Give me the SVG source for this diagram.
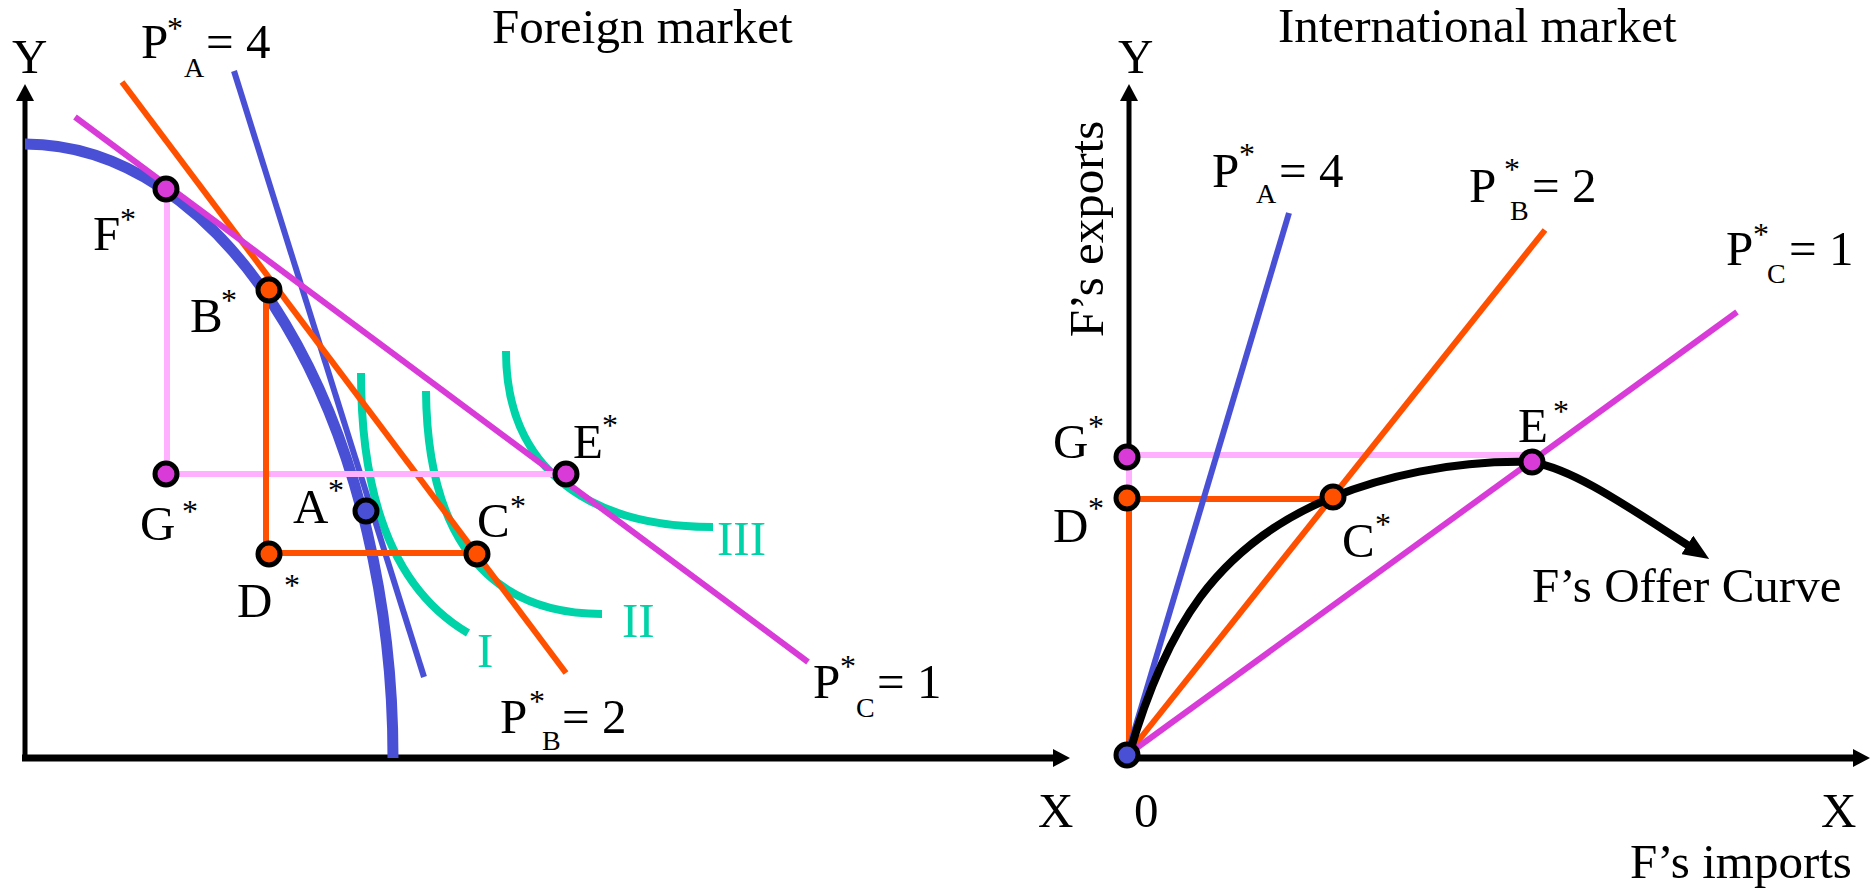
<svg xmlns="http://www.w3.org/2000/svg" width="1872" height="888" viewBox="0 0 1872 888">
<defs>
<style>
text{font-family:"Liberation Serif","Times New Roman",serif;font-size:49px;fill:#000}
.sup{font-size:32px}
.sub{font-size:28px}
.teal{fill:#00D3A7}
.ax{stroke:#000;fill:none}
.ppf{stroke:#4A50D6;stroke-width:11;fill:none}
.ln{fill:none;stroke-width:6}
.blue{stroke:#4A50D6}
.orange{stroke:#FF5000}
.mag{stroke:#D83BD8}
.pink{stroke:#FFB0FF}
.ic{stroke:#00D3A7;stroke-width:8;fill:none}
.offer{stroke:#000;stroke-width:8;fill:none}
.pt{stroke:#000;stroke-width:5}
.fm{fill:#D83BD8}
.fo{fill:#FF5000}
.fb{fill:#4A50D6}
</style>
<marker id="axArrow" markerUnits="userSpaceOnUse" markerWidth="17" markerHeight="18" viewBox="0 0 17 18" refX="1" refY="9" orient="auto"><path d="M0,0 L17,9 L0,18 z" fill="#000"/></marker>
<marker id="offerArrow" markerUnits="userSpaceOnUse" markerWidth="26" markerHeight="22" viewBox="0 0 26 22" refX="2" refY="11" orient="auto"><path d="M0,0 L26,11 L0,22 z" fill="#000"/></marker>
</defs>
<rect width="1872" height="888" fill="#fff"/>

<g id="titles">
<text x="492" y="43">Foreign market</text>
<text x="1278" y="42">International market</text>
</g>

<g id="axes">
<line class="ax" x1="25" y1="761" x2="25" y2="100" stroke-width="5" marker-end="url(#axArrow)"/>
<line class="ax" x1="22" y1="758" x2="1054" y2="758" stroke-width="7" marker-end="url(#axArrow)"/>
<line class="ax" x1="1129" y1="758" x2="1129" y2="100" stroke-width="5" marker-end="url(#axArrow)"/>
<line class="ax" x1="1127" y1="758" x2="1854" y2="758" stroke-width="7" marker-end="url(#axArrow)"/>
<text x="12" y="73">Y</text>
<text x="1038" y="827">X</text>
<text x="1118" y="73">Y</text>
<text x="1134" y="827">0</text>
<text x="1821" y="827">X</text>
<text x="1630" y="878">F’s imports</text>
<text transform="translate(1103,229) rotate(-90)" text-anchor="middle">F’s exports</text>
</g>

<g id="connectors">
<!-- left panel -->
<path id="ppf" class="ppf" d="M25,144 A368,614 0 0 1 393,758"/>
<path id="ic-I" class="ic" d="M361,373 C361,500 395,590 468,633"/>
<path id="ic-II" class="ic" d="M426,391 C427,515 472,614 602,614"/>
<path id="ic-III" class="ic" d="M506,351 C506,470 590,527 713,527"/>
<line class="ln blue" stroke-width="5" x1="234" y1="71" x2="424" y2="677"/>
<line class="ln orange" x1="122" y1="82" x2="566" y2="673"/>
<line class="ln mag" x1="75" y1="117" x2="808" y2="662"/>
<path class="ln pink" d="M167,189 V474 H566"/>
<path class="ln orange" d="M266,290 V553 H477"/>
<!-- right panel -->
<path class="ln pink" d="M1129,457 V498 M1127,455 H1532"/>
<path class="ln orange" d="M1129,755 V499 H1333"/>
<line class="ln blue" stroke-width="5" x1="1127" y1="755" x2="1289" y2="213"/>
<line class="ln orange" x1="1127" y1="755" x2="1545" y2="230"/>
<line class="ln mag" x1="1127" y1="755" x2="1737" y2="312"/>
<path id="offer-curve" class="offer" d="M1129,755 C1165,630 1215,545 1333,497 C1380,478 1450,460 1532,462 C1575,470 1625,505 1689,546" marker-end="url(#offerArrow)"/>
</g>

<g id="curve-labels">
<text class="teal" x="477" y="667">I</text>
<text class="teal" x="622" y="637">II</text>
<text class="teal" x="717" y="555">III</text>
<text x="141" y="58">P<tspan class="sup" x="167" y="39">*</tspan><tspan class="sub" x="184" y="77">A</tspan><tspan x="206" y="58">= 4</tspan></text>
<text x="500" y="733">P<tspan class="sup" x="529" y="712">*</tspan><tspan class="sub" x="542" y="750">B</tspan><tspan x="562" y="733">= 2</tspan></text>
<text x="813" y="698">P<tspan class="sup" x="840" y="677">*</tspan><tspan class="sub" x="856" y="717">C</tspan><tspan x="877" y="698">= 1</tspan></text>
<text x="1212" y="187">P<tspan class="sup" x="1239" y="165">*</tspan><tspan class="sub" x="1256" y="203">A</tspan><tspan x="1279" y="187">= 4</tspan></text>
<text x="1469" y="202">P<tspan class="sup" x="1504" y="180">*</tspan><tspan class="sub" x="1510" y="220">B</tspan><tspan x="1532" y="202">= 2</tspan></text>
<text x="1726" y="265">P<tspan class="sup" x="1753" y="245">*</tspan><tspan class="sub" x="1767" y="283">C</tspan><tspan x="1789" y="265">= 1</tspan></text>
<text x="1532" y="602">F’s Offer Curve</text>
</g>

<g id="node-F">
<circle class="pt fm" cx="166" cy="189" r="11"/>
<text x="93" y="250">F<tspan class="sup" x="120" y="230">*</tspan></text>
</g>
<g id="node-B">
<circle class="pt fo" cx="269" cy="290" r="11"/>
<text x="190" y="332">B<tspan class="sup" x="221" y="311">*</tspan></text>
</g>
<g id="node-G-left">
<circle class="pt fm" cx="166" cy="474" r="11"/>
<text x="140" y="540">G<tspan class="sup" x="182" y="522">*</tspan></text>
</g>
<g id="node-A">
<circle class="pt fb" cx="366" cy="511" r="11"/>
<text x="293" y="523">A<tspan class="sup" x="328" y="501">*</tspan></text>
</g>
<g id="node-D-left">
<circle class="pt fo" cx="269" cy="554" r="11"/>
<text x="237" y="617">D<tspan class="sup" x="284" y="596">*</tspan></text>
</g>
<g id="node-C-left">
<circle class="pt fo" cx="477" cy="554" r="11"/>
<text x="477" y="537">C<tspan class="sup" x="510" y="517">*</tspan></text>
</g>
<g id="node-E-left">
<circle class="pt fm" cx="566" cy="474" r="11"/>
<text x="573" y="458">E<tspan class="sup" x="602" y="436">*</tspan></text>
</g>

<g id="node-G-right">
<circle class="pt fm" cx="1127" cy="457" r="11"/>
<text x="1053" y="458">G<tspan class="sup" x="1088" y="437">*</tspan></text>
</g>
<g id="node-D-right">
<circle class="pt fo" cx="1127" cy="498" r="11"/>
<text x="1053" y="542">D<tspan class="sup" x="1088" y="519">*</tspan></text>
</g>
<g id="node-C-right">
<circle class="pt fo" cx="1333" cy="497" r="11"/>
<text x="1342" y="557">C<tspan class="sup" x="1375" y="535">*</tspan></text>
</g>
<g id="node-E-right">
<circle class="pt fm" cx="1532" cy="462" r="11"/>
<text x="1518" y="442">E<tspan class="sup" x="1553" y="422">*</tspan></text>
</g>
<g id="node-origin">
<circle class="pt fb" cx="1127" cy="755" r="11"/>
</g>
</svg>
